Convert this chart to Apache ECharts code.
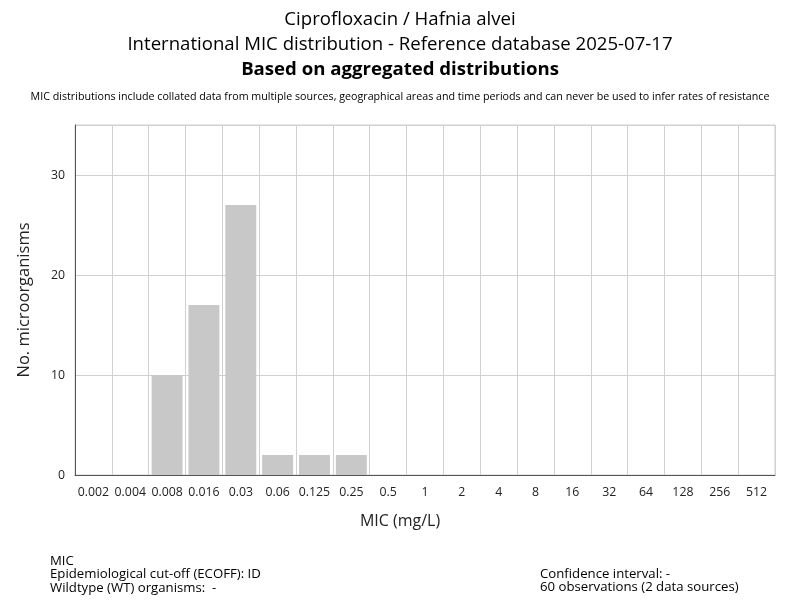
<!DOCTYPE html>
<html><head><meta charset="utf-8">
<script src="https://cdn.jsdelivr.net/npm/echarts@6/dist/echarts.min.js"></script>
<style>html,body{margin:0;padding:0;background:#fff}#c{width:800px;height:600px}</style>
</head><body><div id="c"></div>
<script>
const categories = ['0.002','0.004','0.008','0.016','0.03','0.06','0.125','0.25','0.5','1','2','4','8','16','32','64','128','256','512'];
const counts = [0,0,10,17,27,2,2,2,0,0,0,0,0,0,0,0,0,0,0];
const yTicks = [0,10,20,30];
const titleLines = ['Ciprofloxacin / Hafnia alvei','International MIC distribution - Reference database 2025-07-17'];
const boldTitle = 'Based on aggregated distributions';
const note = 'MIC distributions include collated data from multiple sources, geographical areas and time periods and can never be used to infer rates of resistance';
const leftInfo = ['MIC','Epidemiological cut-off (ECOFF): ID','Wildtype (WT) organisms:  -'];
const rightInfo = ['Confidence interval: -','60 observations (2 data sources)'];

const F = '"Open Sans", "Noto Sans", sans-serif';
const chart = echarts.init(document.getElementById('c'));
chart.setOption({
  animation:false,
  textStyle:{fontFamily:F},
  graphic:[
    {type:'text',left:'center',top:10,style:{text:titleLines[0],font:'18.6px '+F,fill:'#000'}},
    {type:'text',left:'center',top:35,style:{text:titleLines[1],font:'18.6px '+F,fill:'#000'}},
    {type:'text',left:'center',top:60,style:{text:boldTitle,font:'bold 18.6px '+F,fill:'#000'}},
    {type:'text',left:'center',top:91,style:{text:note,font:'10.7px '+F,fill:'#000'}},
    {type:'text',left:50,top:554,style:{text:leftInfo.join('\n'),font:'13.2px '+F,lineHeight:13.5,fill:'#000'}},
    {type:'text',left:540,top:567,style:{text:rightInfo.join('\n'),font:'13.2px '+F,lineHeight:13.5,fill:'#000'}}
  ],
  grid:{left:75,right:25,top:125,bottom:125,show:true,borderColor:'#d0d0d0',borderWidth:1,containLabel:false},
  xAxis:{type:'category',data:categories,
    name:'MIC (mg/L)',nameLocation:'middle',nameGap:38,nameTextStyle:{fontSize:16,color:'#222',fontFamily:F,padding:[0,50,0,0]},
    axisLine:{lineStyle:{color:'#555',width:1}},axisTick:{show:false},
    axisLabel:{color:'#222',fontSize:12.3,margin:11,interval:0,fontFamily:F},
    splitLine:{show:true,lineStyle:{color:'#d0d0d0'}}},
  yAxis:{type:'value',min:0,max:35,interval:10,
    name:'No. microorganisms',nameLocation:'middle',nameGap:42,nameTextStyle:{fontSize:16.5,color:'#222',fontFamily:F},
    axisLine:{show:true,lineStyle:{color:'#555'}},axisTick:{show:false},
    axisLabel:{color:'#222',fontSize:12.3,margin:10,fontFamily:F,
      formatter:v=>yTicks.includes(v)?String(v):''},
    splitLine:{show:true,lineStyle:{color:'#d0d0d0'}}},
  series:[{type:'bar',data:counts,barCategoryGap:'16%',itemStyle:{color:'#c8c8c8'}}]
});
</script></body></html>
